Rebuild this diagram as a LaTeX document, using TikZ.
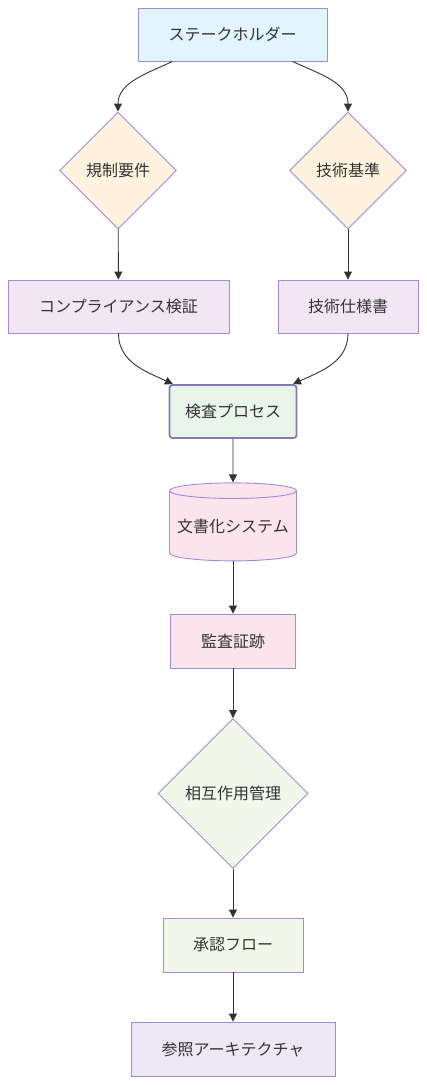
\documentclass[tikz,border=0pt]{standalone}
\usepackage{fontspec}
\setmainfont{Noto Sans CJK JP}
\usepackage{tikz}
\usetikzlibrary{positioning, shapes.geometric, arrows.meta}
\definecolor{linecol}{HTML}{9F8BD8}
\definecolor{edgecol}{HTML}{333333}
\definecolor{textcol}{HTML}{333333}
\definecolor{bluefill}{HTML}{E1F5FE}
\definecolor{orangefill}{HTML}{FFF3E0}
\definecolor{purplefill}{HTML}{F3E5F5}
\definecolor{greenfill}{HTML}{E8F5E9}
\definecolor{pinkfill}{HTML}{FCE4EC}
\definecolor{limefill}{HTML}{F1F8E9}
\definecolor{lavfill}{HTML}{EDE7F6}

\begin{document}
\begin{tikzpicture}[x=1pt,y=-1pt]
					\tikzstyle{box}=[rectangle,draw=linecol,line width=0.9pt,minimum height=53pt,text=textcol,font=\fontsize{16}{19}\selectfont]
					\tikzstyle{choice}=[diamond,aspect=1,draw=linecol,line width=0.9pt,inner sep=0pt,text=textcol,font=\fontsize{16}{19}\selectfont]
					\tikzstyle{flow}=[draw=edgecol,line width=0.9pt,-{Triangle[length=8pt,width=8pt]}]
					\useasboundingbox (0,0) rectangle (426,1085);
					\node[box,fill=bluefill,minimum width=189pt](sh) at (232.5,34.5){ステークホルダー};
					\node[choice,fill=orangefill,minimum size=117pt](reg) at (118,170.5){規制要件};
					\node[choice,fill=orangefill,minimum size=117pt](std) at (348,170.5){技術基準};
					\node[box,fill=purplefill,minimum width=221pt](comp) at (118.5,306.5){コンプライアンス検証};
					\node[box,fill=purplefill,minimum width=140pt](spec) at (348,306.5){技術仕様書};
					\node[box,fill=greenfill,minimum width=127pt,line width=1.8pt,draw=linecol!85!black,rounded corners=3pt](insp) at (233,411.5){検査プロセス};
					\node[cylinder,shape border rotate=90,aspect=0.14,draw=linecol,line width=0.9pt,fill=pinkfill,text=textcol,font=\fontsize{16}{19}\selectfont,minimum width=127pt,minimum height=78pt,inner sep=0pt](doc) at (233,526){文書化システム};
					\node[box,fill=pinkfill,minimum width=125pt,minimum height=54pt](audit) at (233,641){監査証跡};
					\node[choice,fill=limefill,minimum size=150pt](inter) at (233,793.5){相互作用管理};
					\node[box,fill=limefill,minimum width=140pt,minimum height=54pt](appr) at (233,945){承認フロー};
					\node[box,fill=lavfill,minimum width=204pt,minimum height=54pt](ref) at (233,1049){参照アーキテクチャ};
					\path[every edge/.style={flow}]
						([xshift=-60pt]sh.south) edge[out=-155,in=90] (reg.north)
						([xshift=60pt]sh.south) edge[out=-25,in=90] (std.north)
						(reg) edge (comp)
						(std) edge (spec)
						(comp.south) edge[out=-90,in=155] ([xshift=-60pt]insp.north)
						(spec.south) edge[out=-90,in=25] ([xshift=60pt]insp.north)
						(insp) edge (doc)
						(doc.south) edge (audit)
						(audit) edge (inter)
						(inter) edge (appr)
						(appr) edge (ref);
				\end{tikzpicture}
\end{document}
